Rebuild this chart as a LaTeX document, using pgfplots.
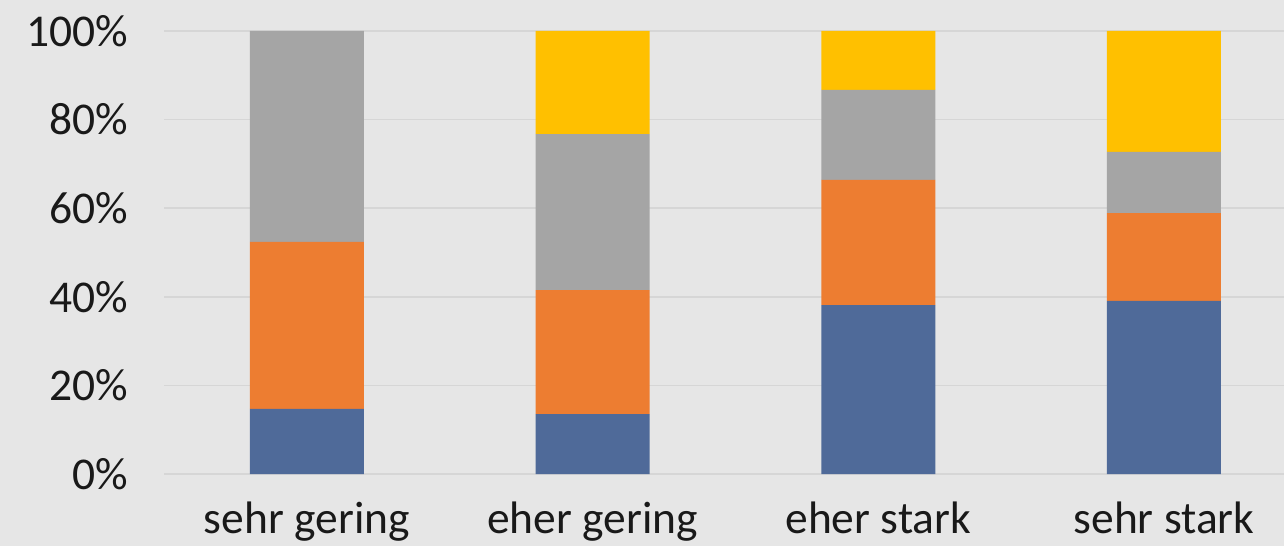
\documentclass[border=0pt]{standalone}
\usepackage{pgfplots}
\pgfplotsset{compat=1.18}
\usepackage{fontspec}
\setmainfont{Carlito}
\definecolor{bg}{HTML}{E6E6E6}
\definecolor{gridc}{HTML}{D6D6D6}
\definecolor{cblue}{HTML}{4F6A99}
\definecolor{corange}{HTML}{ED7D31}
\definecolor{cgray}{HTML}{A5A5A5}
\definecolor{cyellow}{HTML}{FFC000}
\begin{document}
\begin{tikzpicture}[x=1pt,y=1pt]
\useasboundingbox (0,0) rectangle (1284,546);
\fill[bg] (0,0) rectangle (1284,546);
\begin{axis}[
  at={(164pt,72pt)}, anchor=south west,
  scale only axis, width=1120pt, height=443pt,
  xmin=-0.5, xmax=3.42, ymin=0, ymax=100,
  ybar stacked, bar width=114pt,
  axis line style={draw=none}, major tick length=0pt,
  ytick={0,20,...,100},
  yticklabel={\pgfmathprintnumber{\tick}\%},
  ymajorgrids, grid style={draw=gridc, line width=1.6pt},
  xtick={0,1,2,3},
  xticklabels={sehr gering, eher gering, eher stark, sehr stark},
  tick label style={font=\fontsize{45.5}{50}\selectfont, text=black!90},
  /pgf/number format/assume math mode=true,
  yticklabel style={anchor=east, inner sep=0pt, xshift=-36pt},
  xticklabel style={anchor=base, inner sep=0pt, yshift=-59pt},
]
\addplot[fill=cblue, draw=none] coordinates {(0,14.7) (1,13.5) (2,38.1) (3,39.1)};
\addplot[fill=corange, draw=none] coordinates {(0,37.7) (1,28.0) (2,28.3) (3,19.8)};
\addplot[fill=cgray, draw=none] coordinates {(0,47.6) (1,35.2) (2,20.3) (3,13.8)};
\addplot[fill=cyellow, draw=none] coordinates {(0,0) (1,23.3) (2,13.3) (3,27.3)};
\end{axis}
\end{tikzpicture}
\end{document}
